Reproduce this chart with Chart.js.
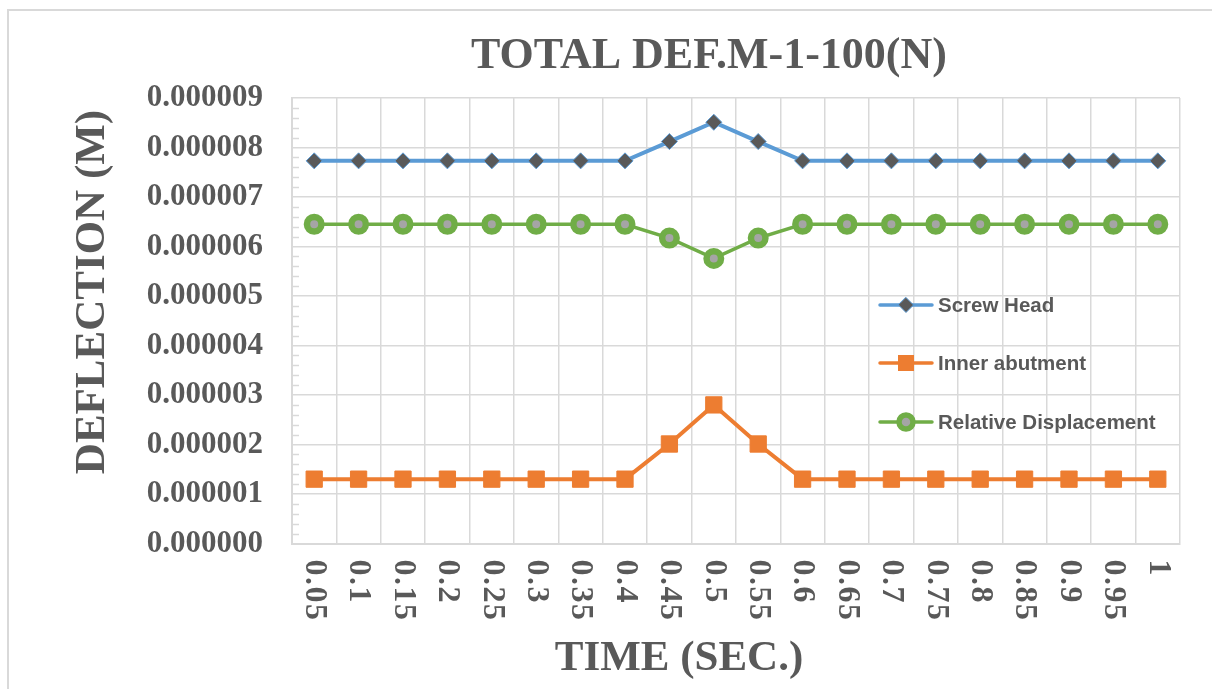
<!DOCTYPE html>
<html>
<head>
<meta charset="utf-8">
<script src="https://cdn.jsdelivr.net/npm/chart.js@4/dist/chart.umd.min.js"></script>
<style>
  html, body { margin: 0; padding: 0; background: #ffffff; }
  canvas { display: block; }
</style>
</head>
<body>
<canvas id="c" width="1212" height="689"></canvas>
<script>
// ---- data ----
const times = ['0.05','0.1','0.15','0.2','0.25','0.3','0.35','0.4','0.45','0.5','0.55','0.6','0.65','0.7','0.75','0.8','0.85','0.9','0.95','1'];
const screwHead = [0.00000773,0.00000773,0.00000773,0.00000773,0.00000773,0.00000773,0.00000773,0.00000773,0.00000812,0.00000851,0.00000812,0.00000773,0.00000773,0.00000773,0.00000773,0.00000773,0.00000773,0.00000773,0.00000773,0.00000773];
const innerAbutment = [0.0000013,0.0000013,0.0000013,0.0000013,0.0000013,0.0000013,0.0000013,0.0000013,0.00000201,0.0000028,0.00000201,0.0000013,0.0000013,0.0000013,0.0000013,0.0000013,0.0000013,0.0000013,0.0000013,0.0000013];
const relativeDisplacement = [0.00000645,0.00000645,0.00000645,0.00000645,0.00000645,0.00000645,0.00000645,0.00000645,0.00000617,0.00000576,0.00000617,0.00000645,0.00000645,0.00000645,0.00000645,0.00000645,0.00000645,0.00000645,0.00000645,0.00000645];
const seriesNames = ['Screw Head','Inner abutment','Relative Displacement'];
const chartTitle = 'TOTAL DEF.M-1-100(N)';
const yTitle = 'DEFLECTION (M)';
const xTitle = 'TIME (SEC.)';
const yMin = 0, yMax = 0.000009, yStep = 0.000001, yMinorStep = 0.0000002;

const TEXT = '#595959';
const GRID = '#d9d9d9';
const SERIF = '"Liberation Serif", "Times New Roman", serif';
const SANS = '"Liberation Sans", Arial, sans-serif';

const decor = {
  id: 'decor',
  beforeDraw(chart) {
    const ctx = chart.ctx;
    ctx.save();
    ctx.fillStyle = '#ffffff';
    ctx.fillRect(0, 0, chart.width, chart.height);
    ctx.strokeStyle = GRID;
    ctx.lineWidth = 2;
    ctx.beginPath();
    ctx.moveTo(8, chart.height);
    ctx.lineTo(8, 10);
    ctx.lineTo(chart.width, 10);
    ctx.stroke();
    ctx.restore();
  },
  beforeDatasetsDraw(chart) {
    const ctx = chart.ctx;
    const y = chart.scales.y;
    const left = chart.chartArea.left;
    ctx.save();
    ctx.strokeStyle = GRID;
    ctx.lineWidth = 1.5;
    const n = Math.round((yMax - yMin) / yMinorStep);
    for (let i = 0; i <= n; i++) {
      if (i % 5 === 0) continue;
      const py = Math.round(y.getPixelForValue(yMin + i * yMinorStep)) + 0.5;
      ctx.beginPath();
      ctx.moveTo(left, py);
      ctx.lineTo(left + 7, py);
      ctx.stroke();
    }
    ctx.restore();
  },
  afterDraw(chart) {
    const ctx = chart.ctx;
    const xs = chart.scales.x;
    const area = chart.chartArea;
    ctx.save();
    ctx.fillStyle = TEXT;

    // x tick labels, rotated clockwise
    ctx.font = 'bold 32px ' + SERIF;
    ctx.letterSpacing = '1.5px';
    ctx.textAlign = 'left';
    ctx.textBaseline = 'middle';
    times.forEach((t, i) => {
      const px = xs.getPixelForTick(i);
      ctx.save();
      ctx.translate(px, area.bottom + 16);
      ctx.rotate(Math.PI / 2);
      ctx.fillText(t, 0, 0);
      ctx.restore();
    });
    ctx.letterSpacing = '0px';

    // chart title
    ctx.font = 'bold 44px ' + SERIF;
    ctx.textAlign = 'center';
    ctx.textBaseline = 'alphabetic';
    ctx.fillText(chartTitle, 709, 68);

    // x axis title
    ctx.font = 'bold 43px ' + SERIF;
    ctx.fillText(xTitle, 679, 670);

    // y axis title
    ctx.save();
    ctx.translate(104, 292);
    ctx.rotate(-Math.PI / 2);
    ctx.font = 'bold 43px ' + SERIF;
    ctx.textAlign = 'center';
    ctx.textBaseline = 'alphabetic';
    ctx.fillText(yTitle, 0, 0);
    ctx.restore();

    // legend
    const rows = [305, 363, 422];
    const ds = chart.data.datasets;
    rows.forEach((ry, i) => {
      const d = ds[i];
      ctx.strokeStyle = d.borderColor;
      ctx.lineWidth = 3.5;
      ctx.lineCap = 'round';
      ctx.beginPath();
      ctx.moveTo(880, ry);
      ctx.lineTo(932, ry);
      ctx.stroke();
      const cx = 906;
      if (i === 0) {
        ctx.fillStyle = d.pointBackgroundColor;
        ctx.strokeStyle = d.pointBorderColor;
        ctx.lineWidth = 1;
        ctx.beginPath();
        ctx.moveTo(cx, ry - 7.5); ctx.lineTo(cx + 7.5, ry); ctx.lineTo(cx, ry + 7.5); ctx.lineTo(cx - 7.5, ry); ctx.closePath();
        ctx.fill(); ctx.stroke();
      } else if (i === 1) {
        ctx.fillStyle = d.pointBackgroundColor;
        ctx.fillRect(cx - 8, ry - 8, 16, 16);
      } else {
        ctx.fillStyle = d.pointBackgroundColor;
        ctx.strokeStyle = d.pointBorderColor;
        ctx.lineWidth = 5.5;
        ctx.beginPath();
        ctx.arc(cx, ry, 7, 0, Math.PI * 2);
        ctx.fill(); ctx.stroke();
      }
      ctx.fillStyle = TEXT;
      ctx.font = 'bold 20.5px ' + SANS;
      ctx.textAlign = 'left';
      ctx.textBaseline = 'middle';
      ctx.fillText(seriesNames[i], 938, ry + 1);
    });
    ctx.restore();
  }
};

new Chart(document.getElementById('c'), {
  type: 'line',
  data: {
    labels: times,
    datasets: [
      {
        label: seriesNames[0], data: screwHead,
        borderColor: '#5B9BD5', borderWidth: 4,
        pointStyle: 'rectRot', pointRadius: 8,
        pointBackgroundColor: '#595959', pointBorderColor: '#5B9BD5', pointBorderWidth: 1
      },
      {
        label: seriesNames[1], data: innerAbutment,
        borderColor: '#ED7D31', borderWidth: 4,
        pointStyle: 'rect', pointRadius: 11.5,
        pointBackgroundColor: '#ED7D31', pointBorderColor: '#ED7D31', pointBorderWidth: 1
      },
      {
        label: seriesNames[2], data: relativeDisplacement,
        borderColor: '#70AD47', borderWidth: 3.5,
        pointStyle: 'circle', pointRadius: 7.25,
        pointBackgroundColor: '#A5A5A5', pointBorderColor: '#70AD47', pointBorderWidth: 6.5
      }
    ]
  },
  options: {
    responsive: false,
    animation: false,
    devicePixelRatio: 1,
    layout: { padding: { top: 98, right: 32, left: 0, bottom: 0 } },
    plugins: { legend: { display: false }, title: { display: false }, tooltip: { enabled: false } },
    elements: { line: { tension: 0 } },
    scales: {
      x: {
        type: 'category',
        offset: true,
        grid: { offset: true, color: GRID, lineWidth: 1.5, drawTicks: false },
        border: { color: GRID, width: 2 },
        ticks: { display: false },
        afterFit(s) { s.height = 145.5; }
      },
      y: {
        min: yMin, max: yMax,
        grid: { color: GRID, lineWidth: 1.5, drawTicks: false },
        border: { color: GRID, width: 2 },
        ticks: {
          stepSize: yStep,
          padding: 29,
          color: TEXT,
          font: { family: SERIF, size: 31, weight: 'bold' },
          callback: v => Number(v).toFixed(6)
        },
        afterFit(s) { s.width = 292; }
      }
    }
  },
  plugins: [decor]
});
</script>
</body>
</html>
